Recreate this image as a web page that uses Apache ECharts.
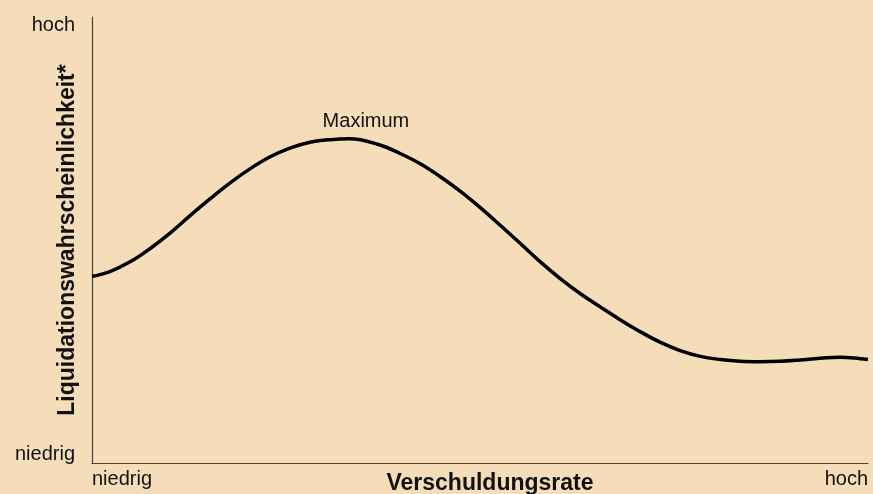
<!DOCTYPE html>
<html>
<head>
<meta charset="utf-8">
<script src="https://cdn.jsdelivr.net/npm/echarts@6/dist/echarts.min.js"></script>
<style>
  html, body { margin: 0; padding: 0; background: #f6ddb9; }
  #main { width: 873px; height: 494px; }
</style>
</head>
<body>
<div id="main"></div>
<script>
// Verschuldungsrate (0 = niedrig, 100 = hoch)
var xVals = [0, 2.3, 4.9, 7.5, 10.1, 12.6, 15.2, 17.8, 20.4, 22.9, 25.5, 28.1, 30.7, 33.2, 37.1, 39.7, 42.3, 44.8, 47.4, 50.0,
             52.6, 55.2, 57.7, 60.3, 62.9, 65.5, 68.0, 70.6, 73.2, 75.8, 78.4, 81.0, 83.5, 86.1, 88.7, 91.2, 93.8, 96.4, 99.0, 100];
// Liquidationswahrscheinlichkeit (0 = niedrig, 100 = hoch)
var yVals = [41.8, 42.9, 45.1, 48.1, 51.6, 55.4, 59.2, 62.8, 66.0, 68.6, 70.6, 71.9, 72.5, 72.7, 71.3, 69.4, 67.1, 64.3, 61.0, 57.3,
             53.3, 49.2, 45.2, 41.4, 38.0, 35.0, 32.2, 29.5, 27.1, 25.2, 23.9, 23.2, 22.8, 22.7, 22.8, 23.1, 23.5, 23.7, 23.4, 23.2];
// Achsenbeschriftungen
var xTickVals = [0, 100];
var xTickText = ['niedrig', 'hoch'];
var yTickVals = [2, 98];
var yTickText = ['niedrig', 'hoch'];
// Beschriftung am Maximum
var maxLabel = 'Maximum';
var maxLabelPos = [35.3, 76.5];

var curve = [];
for (var i = 0; i < xVals.length; i++) {
  curve.push([xVals[i], yVals[i]]);
}

var chart = echarts.init(document.getElementById('main'));
var axisColor = '#4a4036';
var font = 'Liberation Sans, Arial, sans-serif';

chart.setOption({
  backgroundColor: '#f6ddb9',
  animation: false,
  grid: { left: 92, right: 5, top: 17, bottom: 31, containLabel: false, outerBoundsMode: 'none' },
  xAxis: {
    type: 'value',
    min: 0,
    max: 100,
    name: 'Verschuldungsrate',
    nameLocation: 'middle',
    nameGap: 9,
    nameMoveOverlap: false,
    nameTextStyle: { fontFamily: font, fontSize: 23, fontWeight: 'bold', color: '#111', padding: [0, 0, 0, 20] },
    axisLine: { lineStyle: { color: axisColor, width: 1.2 } },
    axisTick: { show: false },
    splitLine: { show: false },
    axisLabel: {
      customValues: xTickVals,
      formatter: function (v) { return xTickText[xTickVals.indexOf(v)]; },
      alignMinLabel: 'left',
      alignMaxLabel: 'right',
      margin: 6,
      fontFamily: font,
      fontSize: 20,
      color: '#111'
    }
  },
  yAxis: {
    type: 'value',
    min: 0,
    max: 100,
    name: 'Liquidationswahrscheinlichkeit*',
    nameLocation: 'middle',
    nameGap: 13,
    nameMoveOverlap: false,
    nameTextStyle: { fontFamily: font, fontSize: 23, fontWeight: 'bold', color: '#111' },
    axisLine: { show: true, lineStyle: { color: axisColor, width: 1.2 } },
    axisTick: { show: false },
    splitLine: { show: false },
    axisLabel: {
      customValues: yTickVals,
      formatter: function (v) { return yTickText[yTickVals.indexOf(v)]; },
      margin: 17,
      fontFamily: font,
      fontSize: 20,
      color: '#111'
    }
  },
  series: [{
    type: 'line',
    data: curve,
    smooth: 0.4,
    showSymbol: false,
    lineStyle: { color: '#000', width: 3.5 },
    markPoint: {
      symbol: 'circle',
      symbolSize: 0,
      data: [{ coord: maxLabelPos, value: maxLabel }],
      label: {
        show: true,
        position: 'inside',
        formatter: maxLabel,
        fontFamily: font,
        fontSize: 20,
        color: '#111'
      }
    }
  }]
});
</script>
</body>
</html>
